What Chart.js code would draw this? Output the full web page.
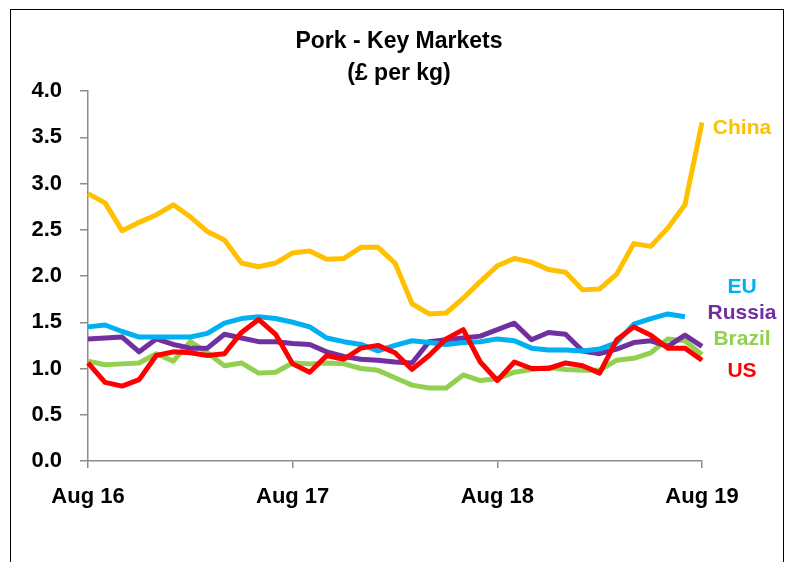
<!DOCTYPE html>
<html><head><meta charset="utf-8">
<script src="https://cdn.jsdelivr.net/npm/chart.js@4/dist/chart.umd.min.js"></script>
<style>
html,body{margin:0;padding:0;background:#fff;}
#wrap{position:absolute;left:0;top:0;width:788px;height:562px;overflow:hidden;}
#frame{position:absolute;left:10px;top:9px;width:774px;height:600px;border:1.5px solid #000;box-sizing:border-box;}
canvas{position:absolute;left:0;top:0;}
</style></head>
<body>
<div id="wrap"><div id="frame"></div><canvas id="c" width="788" height="562"></canvas></div>
<script>
const months = ['Aug 16','Sep 16','Oct 16','Nov 16','Dec 16','Jan 17','Feb 17','Mar 17','Apr 17','May 17','Jun 17','Jul 17',
  'Aug 17','Sep 17','Oct 17','Nov 17','Dec 17','Jan 18','Feb 18','Mar 18','Apr 18','May 18','Jun 18','Jul 18',
  'Aug 18','Sep 18','Oct 18','Nov 18','Dec 18','Jan 19','Feb 19','Mar 19','Apr 19','May 19','Jun 19','Jul 19','Aug 19'];
const tickLabels = ['Aug 16','Aug 17','Aug 18','Aug 19'];
const china  = [2.89,2.79,2.49,2.58,2.66,2.77,2.64,2.48,2.39,2.14,2.10,2.14,2.25,2.27,2.18,2.19,2.31,2.31,2.14,1.70,1.59,1.60,1.76,1.94,2.11,2.19,2.15,2.07,2.04,1.85,1.86,2.02,2.35,2.32,2.52,2.77,3.66];
const eu     = [1.45,1.47,1.40,1.34,1.34,1.34,1.34,1.38,1.49,1.54,1.56,1.54,1.50,1.45,1.33,1.29,1.26,1.19,1.25,1.30,1.28,1.26,1.28,1.29,1.32,1.30,1.22,1.20,1.20,1.19,1.21,1.28,1.48,1.54,1.59,1.56,null];
const russia = [1.32,1.33,1.34,1.18,1.32,1.26,1.22,1.22,1.37,1.33,1.29,1.29,1.27,1.26,1.18,1.13,1.10,1.09,1.07,1.06,1.29,1.31,1.33,1.35,1.42,1.49,1.31,1.39,1.37,1.19,1.16,1.21,1.28,1.30,1.24,1.36,1.24];
const brazil = [1.08,1.04,1.05,1.06,1.16,1.08,1.29,1.17,1.03,1.06,0.95,0.96,1.06,1.05,1.06,1.05,1.00,0.98,0.90,0.82,0.79,0.79,0.93,0.87,0.89,0.96,0.99,1.01,0.99,0.98,0.98,1.09,1.11,1.17,1.32,1.30,1.15];
const us     = [1.06,0.85,0.81,0.88,1.14,1.18,1.17,1.14,1.16,1.39,1.53,1.37,1.05,0.96,1.14,1.10,1.22,1.25,1.17,0.99,1.14,1.32,1.42,1.07,0.87,1.07,1.00,1.00,1.06,1.03,0.95,1.31,1.45,1.36,1.22,1.22,1.09];
const seriesNames = ['China','EU','Russia','Brazil','US'];
const seriesColors = ['#FFC000','#00B0F0','#7030A0','#92D050','#FF0000'];
const labelValues = [3.60,1.88,1.60,1.32,0.97];
const titleLines = ['Pork - Key Markets','(£ per kg)'];

const FONT = "'Liberation Sans', Arial, sans-serif";

const overlay = {
  id:'overlay',
  afterDraw(chart){
    const ctx = chart.ctx;
    const xs = chart.scales.x, ys = chart.scales.y;
    ctx.save();
    ctx.textAlign='center'; ctx.textBaseline='middle';
    ctx.fillStyle='#000';
    ctx.font = 'bold 23px ' + FONT;
    ctx.fillText(titleLines[0], 399, 42);
    ctx.fillText(titleLines[1], 399, 74);
    ctx.font = 'bold 21px ' + FONT;
    const xEnd = xs.getPixelForValue(months.length-1) + 40;
    seriesNames.forEach((n,i)=>{
      ctx.fillStyle = seriesColors[i];
      ctx.fillText(n, xEnd, ys.getPixelForValue(labelValues[i]));
    });
    ctx.restore();
  }
};

const ds = [china,eu,russia,brazil,us];
const orders = [0,2,3,4,1];
new Chart(document.getElementById('c'), {
  type:'line',
  data:{
    labels: months,
    datasets: ds.map((d,i)=>({
      label: seriesNames[i], data: d, borderColor: seriesColors[i], backgroundColor: seriesColors[i],
      borderWidth: 5, pointRadius: 0, tension: 0, fill:false, spanGaps:false, order: orders[i],
      borderJoinStyle:'round', borderCapStyle:'butt'
    }))
  },
  options:{
    responsive:false, animation:false,
    devicePixelRatio:1,
    layout:{padding:{left:0,right:86,top:91,bottom:0}},
    plugins:{legend:{display:false}, tooltip:{enabled:false}, title:{display:false}},
    scales:{
      x:{
        offset:false,
        grid:{display:true, drawOnChartArea:false, drawTicks:true, tickLength:7, color:'#8c8c8c', lineWidth:1.5},
        border:{display:true, color:'#8c8c8c', width:1.5},
        ticks:{autoSkip:false, maxRotation:0, minRotation:0, padding:16, color:'#000',
          font:{family:FONT, size:22, weight:'bold'},
          callback:function(v,i){ const l = months[i]; return tickLabels.includes(l) ? l : null; }},
        afterFit:function(s){ s.height = 101; }
      },
      y:{
        min:0, max:4,
        grid:{display:true, drawOnChartArea:false, drawTicks:true, tickLength:8, color:'#8c8c8c', lineWidth:1.5},
        border:{display:true, color:'#8c8c8c', width:1.5},
        ticks:{stepSize:0.5, padding:18, color:'#000', font:{family:FONT, size:22, weight:'bold'},
          callback:function(v){ return Number(v).toFixed(1); }},
        afterFit:function(s){ s.width = 88; }
      }
    }
  },
  plugins:[overlay]
});
</script>
</body></html>
